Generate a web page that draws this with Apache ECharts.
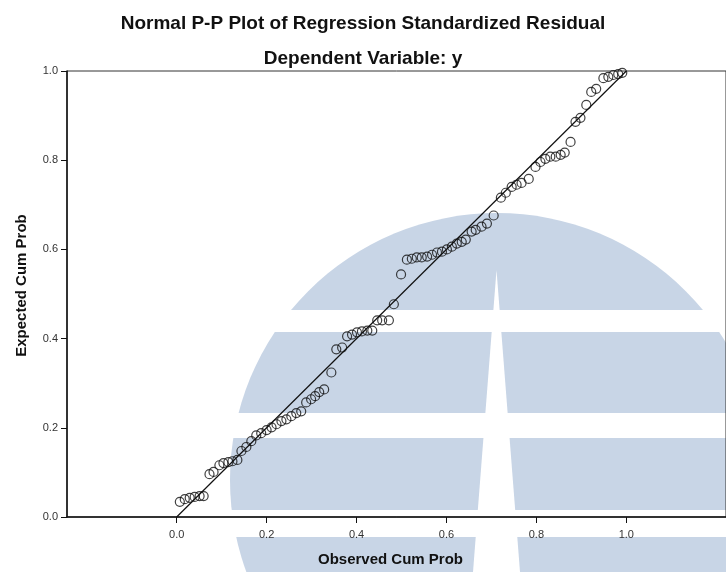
<!DOCTYPE html>
<html>
<head>
<meta charset="utf-8">
<script src="https://cdn.jsdelivr.net/npm/echarts@6/dist/echarts.min.js"></script>
<style>html,body{margin:0;padding:0;background:#fff;}#chart{width:726px;height:572px;}</style>
</head>
<body>
<div id="chart"></div>
<script>
// Observed cumulative probability (x) and expected cumulative probability (y)
var observed = [0.007,0.018,0.029,0.040,0.051,0.060,0.073,0.082,0.095,0.104,0.115,0.124,0.135,0.144,0.155,0.166,0.177,0.188,0.200,0.211,0.222,0.233,0.244,0.255,0.266,0.277,0.288,0.299,0.308,0.317,0.328,0.344,0.355,0.368,0.379,0.390,0.401,0.412,0.424,0.435,0.446,0.457,0.472,0.483,0.499,0.512,0.523,0.534,0.545,0.557,0.568,0.579,0.590,0.601,0.612,0.623,0.634,0.643,0.656,0.665,0.678,0.690,0.705,0.721,0.732,0.745,0.756,0.767,0.783,0.798,0.809,0.820,0.831,0.843,0.854,0.863,0.876,0.887,0.898,0.911,0.922,0.933,0.949,0.960,0.971,0.982,0.991];
var expected = [0.034,0.040,0.043,0.045,0.047,0.047,0.096,0.101,0.116,0.121,0.123,0.125,0.128,0.148,0.157,0.170,0.183,0.188,0.195,0.201,0.208,0.215,0.219,0.226,0.233,0.237,0.257,0.264,0.271,0.280,0.286,0.324,0.376,0.380,0.405,0.409,0.414,0.416,0.418,0.418,0.441,0.441,0.441,0.477,0.544,0.577,0.579,0.582,0.582,0.584,0.588,0.593,0.595,0.600,0.606,0.613,0.617,0.622,0.640,0.644,0.651,0.658,0.676,0.716,0.727,0.740,0.745,0.749,0.758,0.785,0.796,0.803,0.808,0.808,0.812,0.817,0.841,0.886,0.895,0.924,0.953,0.960,0.984,0.987,0.991,0.993,0.996];
var refLine = [[0, 0], [1, 1]];
var tickValues = [0, 0.2, 0.4, 0.6, 0.8, 1.0];

var points = observed.map(function (x, i) { return [x, expected[i]]; });
var BLUE = 'rgb(200,213,230)';
var FONT = 'Liberation Sans, Arial, sans-serif';
var chart = echarts.init(document.getElementById('chart'), null, {renderer: 'canvas'});
chart.setOption({
  backgroundColor: '#fff',
  animation: false,
  graphic: [
    {type: 'circle', z: -10, z2: 0, silent: true, shape: {cx: 497, cy: 480, r: 267}, style: {fill: BLUE}},
    {type: 'rect', z: -10, z2: 1, silent: true, shape: {x: 0, y: 310, width: 726, height: 22}, style: {fill: '#fff'}},
    {type: 'rect', z: -10, z2: 1, silent: true, shape: {x: 0, y: 413, width: 726, height: 25}, style: {fill: '#fff'}},
    {type: 'rect', z: -10, z2: 1, silent: true, shape: {x: 0, y: 510, width: 726, height: 27}, style: {fill: '#fff'}},
    {type: 'polygon', z: -10, z2: 1, silent: true, shape: {points: [[496.5, 270], [473, 572], [520, 572]]}, style: {fill: '#fff'}}
  ],
  title: [
    {text: 'Normal P-P Plot of Regression Standardized Residual', left: 'center', top: 9,
     textStyle: {fontFamily: FONT, fontSize: 19, fontWeight: 'bold', color: '#111'}},
    {text: 'Dependent Variable: y', left: 'center', top: 44,
     textStyle: {fontFamily: FONT, fontSize: 19, fontWeight: 'bold', color: '#111'}}
  ],
  grid: {left: 67, right: -2, top: 71, bottom: 54, show: true, borderColor: '#333', borderWidth: 1, backgroundColor: 'transparent'},
  xAxis: {
    type: 'value', min: -0.2439, max: 1.2217,
    name: 'Observed Cum Prob', nameLocation: 'middle', nameGap: 35,
    nameTextStyle: {fontFamily: FONT, fontSize: 15, fontWeight: 'bold', color: '#111', padding: [0, 12, 0, 0]},
    axisLine: {show: true, onZero: false, lineStyle: {color: '#111', width: 1.5}},
    axisTick: {show: true, customValues: tickValues, length: 6, lineStyle: {color: '#111'}},
    axisLabel: {customValues: tickValues, margin: 12, fontFamily: FONT, fontSize: 11, color: '#333',
      formatter: function (v) { return v.toFixed(1); }},
    splitLine: {show: false}
  },
  yAxis: {
    type: 'value', min: 0, max: 1, interval: 0.2,
    name: 'Expected Cum Prob', nameLocation: 'middle', nameGap: 38,
    nameTextStyle: {fontFamily: FONT, fontSize: 15, fontWeight: 'bold', color: '#111', padding: [0, 0, 0, 17]},
    axisLine: {show: true, onZero: false, lineStyle: {color: '#111', width: 1.5}},
    axisTick: {show: true, length: 6, lineStyle: {color: '#111'}},
    axisLabel: {margin: 9, fontFamily: FONT, fontSize: 11, color: '#333',
      formatter: function (v) { return v.toFixed(1); }},
    splitLine: {show: false}
  },
  series: [
    {type: 'line', data: refLine, showSymbol: false, lineStyle: {color: '#111', width: 1.2}, z: 3},
    {type: 'scatter', data: points, symbol: 'circle', symbolSize: 9,
     itemStyle: {color: 'transparent', borderColor: '#111', borderWidth: 1.2}, z: 4}
  ]
});
</script>
</body>
</html>
